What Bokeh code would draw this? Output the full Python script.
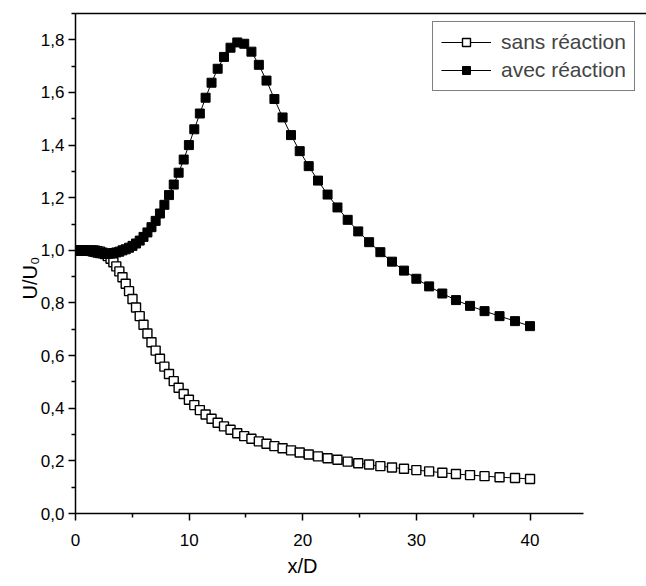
from bokeh.plotting import figure
from bokeh.models import FixedTicker, LinearAxis, Range1d, Title, Legend, LegendItem
from bokeh.embed import file_html
from bokeh.resources import INLINE

x_d = [0.0, 0.15, 0.305, 0.465, 0.63, 0.8, 0.976, 1.158, 1.346, 1.54, 1.74, 1.947,
       2.16, 2.38, 2.607, 2.842, 3.084, 3.334, 3.592, 3.859, 4.134, 4.418, 4.712,
       5.015, 5.328, 5.651, 5.985, 6.33, 6.686, 7.053, 7.432, 7.824, 8.228, 8.645,
       9.076, 9.521, 9.98, 10.454, 10.944, 11.45, 11.972, 12.511, 13.068, 13.643,
       14.236, 14.849, 15.482, 16.135, 16.809, 17.505, 18.224, 18.966, 19.732,
       20.523, 21.34, 22.183, 23.054, 23.953, 24.881, 25.84, 26.83, 27.852, 28.907,
       29.996, 31.121, 32.282, 33.481, 34.719, 35.997, 37.317, 38.68, 40.0]

u_avec = [1.000, 1.000, 1.000, 1.000, 1.000, 0.999, 0.999, 0.998, 0.997, 0.995,
          0.993, 0.991, 0.989, 0.988, 0.987, 0.987, 0.988, 0.990, 0.992, 0.995,
          1.000, 1.004, 1.010, 1.017, 1.026, 1.037, 1.051, 1.068, 1.088, 1.112,
          1.140, 1.173, 1.210, 1.250, 1.295, 1.345, 1.400, 1.460, 1.520, 1.580,
          1.637, 1.690, 1.735, 1.770, 1.790, 1.785, 1.755, 1.705, 1.645, 1.575,
          1.505, 1.438, 1.377, 1.320, 1.265, 1.212, 1.163, 1.116, 1.072, 1.031,
          0.993, 0.957, 0.923, 0.892, 0.863, 0.836, 0.811, 0.789, 0.769, 0.750,
          0.731, 0.712]

u_sans = [1.000, 1.000, 1.000, 1.000, 1.000, 1.000, 1.000, 1.000, 1.000, 1.000,
          0.999, 0.997, 0.995, 0.991, 0.986, 0.978, 0.968, 0.955, 0.939, 0.920,
          0.898, 0.873, 0.845, 0.815, 0.783, 0.750, 0.717, 0.684, 0.651, 0.619,
          0.588, 0.558, 0.530, 0.503, 0.478, 0.454, 0.432, 0.412, 0.393, 0.376,
          0.360, 0.345, 0.331, 0.318, 0.305, 0.294, 0.284, 0.274, 0.265, 0.256,
          0.248, 0.240, 0.232, 0.224, 0.217, 0.210, 0.204, 0.197, 0.191, 0.186,
          0.180, 0.175, 0.170, 0.165, 0.160, 0.155, 0.150, 0.146, 0.142, 0.138,
          0.135, 0.131]

series_labels = ["sans réaction", "avec réaction"]

x_ticks = [0, 10, 20, 30, 40]
x_tick_labels = ["0", "10", "20", "30", "40"]
x_minor = [5, 15, 25, 35]
y_ticks = [0.0, 0.2, 0.4, 0.6, 0.8, 1.0, 1.2, 1.4, 1.6, 1.8]
y_tick_labels = ["0,0", "0,2", "0,4", "0,6", "0,8", "1,0", "1,2", "1,4", "1,6", "1,8"]
y_minor = [0.1, 0.3, 0.5, 0.7, 0.9, 1.1, 1.3, 1.5, 1.7, 1.9]

FONT = "Liberation Sans"

p = figure(width=646, height=586, x_range=Range1d(0, 50.25), y_range=Range1d(0, 1.9),
           output_backend="svg", toolbar_location=None,
           x_axis_location=None, y_axis_location=None,
           min_border_left=75, min_border_right=0, min_border_top=13, min_border_bottom=73)
p.outline_line_color = None
p.background_fill_color = "white"
p.border_fill_color = "white"

def style_axis(ax):
    ax.axis_line_color = "black"
    ax.axis_line_width = 1.5
    ax.major_tick_line_color = "black"
    ax.major_tick_line_width = 1.5
    ax.minor_tick_line_color = "black"
    ax.minor_tick_line_width = 1.5
    ax.major_tick_in = 0
    ax.major_tick_out = 7
    ax.minor_tick_in = 0
    ax.minor_tick_out = 4
    ax.major_label_text_font = FONT
    ax.major_label_text_font_size = "17px"
    ax.major_label_text_color = "black"

xaxis = LinearAxis(ticker=FixedTicker(ticks=x_ticks, minor_ticks=x_minor),
                   major_label_overrides={t: l for t, l in zip(x_ticks, x_tick_labels)},
                   bounds=(0, 44.7))
style_axis(xaxis)
xaxis.major_label_standoff = 13
p.add_layout(xaxis, "below")

yaxis = LinearAxis(ticker=FixedTicker(ticks=y_ticks, minor_ticks=y_minor),
                   major_label_overrides={t: l for t, l in zip(y_ticks, y_tick_labels)})
style_axis(yaxis)
yaxis.major_label_standoff = 4
p.add_layout(yaxis, "left")

topaxis = LinearAxis(ticker=FixedTicker(ticks=[]))
topaxis.axis_line_color = "black"
topaxis.axis_line_width = 1.5
topaxis.major_tick_line_color = None
topaxis.minor_tick_line_color = None
p.add_layout(topaxis, "above")

p.grid.visible = False

l1 = p.line(x_d, u_sans, line_color="black", line_width=1)
s1 = p.scatter(x_d, u_sans, marker="square", size=9, fill_color="white",
               line_color="black", line_width=1.4)
l2 = p.line(x_d, u_avec, line_color="black", line_width=1)
s2 = p.scatter(x_d, u_avec, marker="square", size=9, fill_color="black",
               line_color="black", line_width=1)

legend = Legend(items=[LegendItem(label=series_labels[0], renderers=[l1, s1]),
                       LegendItem(label=series_labels[1], renderers=[l2, s2])],
                location=(357, 422))
legend.border_line_color = "black"
legend.border_line_width = 1
legend.background_fill_color = "white"
legend.background_fill_alpha = 1
legend.label_text_font = FONT
legend.label_text_font_size = "21px"
legend.glyph_width = 50
legend.glyph_height = 20
legend.label_height = 20
legend.label_standoff = 10
legend.padding = 8
legend.spacing = 4
legend.margin = 0
p.add_layout(legend)

xtitle = Title(text="x/D", align="left", offset=212, standoff=8,
               text_font=FONT, text_font_size="20px", text_font_style="normal",
               text_color="black")
p.add_layout(xtitle, "below")
ytitle = Title(text="U/U₀", align="left", offset=214, standoff=-6,
               text_font=FONT, text_font_size="20px", text_font_style="normal",
               text_color="black")
p.add_layout(ytitle, "left")

open("out.html", "w").write(file_html(p, INLINE))
